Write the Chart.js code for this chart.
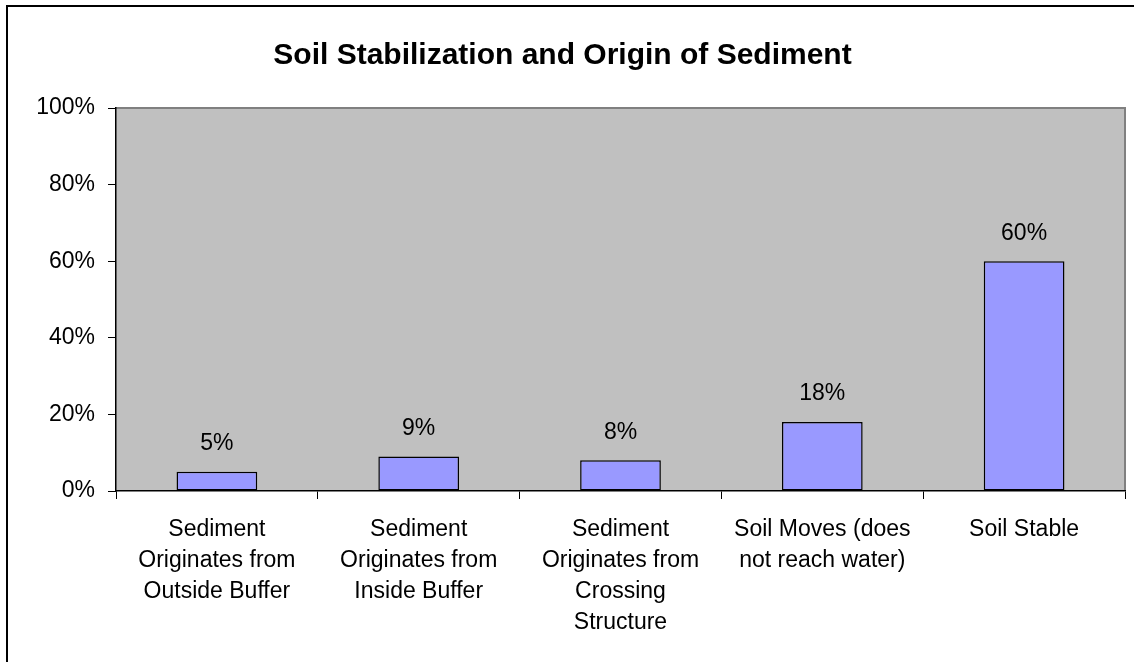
<!DOCTYPE html>
<html>
<head>
<meta charset="utf-8">
<script src="https://cdn.jsdelivr.net/npm/chart.js@4"></script>
<style>
  html, body { margin: 0; padding: 0; background: #fff; }
  #wrap { position: relative; width: 1134px; height: 662px; }
</style>
</head>
<body>
<div id="wrap"><canvas id="soilChart" width="1134" height="662"></canvas></div>
<script>
// Data
const categories = [
    ["Sediment", "Originates from", "Outside Buffer"],
    ["Sediment", "Originates from", "Inside Buffer"],
    ["Sediment", "Originates from", "Crossing", "Structure"],
    ["Soil Moves (does", "not reach water)"],
    ["Soil Stable"]
];
const shares = [0.05, 0.09, 0.08, 0.18, 0.60];
const yTicks = [0, 0.2, 0.4, 0.6, 0.8, 1.0];
const chartTitle = "Soil Stabilization and Origin of Sediment";

const FONT = "'Liberation Sans', Arial, sans-serif";
Chart.defaults.font.family = FONT;
Chart.defaults.color = "#000";

function pct(v){
    return Math.round(v * 100) + "%";
}

//====================================
// Grey plot area, outer frame and value labels above the bars
const excelLook = {
    id: "excelLook",
    beforeDraw(chart){
        const ctx = chart.ctx;
        const a = chart.chartArea;
        ctx.save();
        // outer frame (only left and top edges are visible)
        ctx.strokeStyle = "#000";
        ctx.lineWidth = 2;
        ctx.beginPath();
        ctx.moveTo(7, chart.height + 5);
        ctx.lineTo(7, 6);
        ctx.lineTo(chart.width + 5, 6);
        ctx.stroke();
        // plot background
        ctx.fillStyle = "#C0C0C0";
        ctx.fillRect(a.left, a.top, a.right - a.left, a.bottom - a.top);
        ctx.strokeStyle = "#808080";
        ctx.lineWidth = 2;
        ctx.beginPath();
        ctx.moveTo(a.left, a.top);
        ctx.lineTo(a.right, a.top);
        ctx.lineTo(a.right, a.bottom);
        ctx.stroke();
        ctx.restore();
    },
    afterDatasetsDraw(chart){
        const ctx = chart.ctx;
        const meta = chart.getDatasetMeta(0);
        ctx.save();
        ctx.font = "23px " + FONT;
        ctx.fillStyle = "#000";
        ctx.textAlign = "center";
        ctx.textBaseline = "middle";
        meta.data.forEach(function(bar, i){
            ctx.fillText(pct(shares[i]), bar.x, bar.y - 28);
        });
        ctx.restore();
    }
};

const data = {
    labels: categories,
    datasets: [{
        data: shares,
        backgroundColor: "#9999FF",
        borderColor: "#000",
        borderWidth: 1.5,
        borderSkipped: false,
        categoryPercentage: 1.0,
        barPercentage: 0.40
    }]
};

const options = {
    responsive: false,
    animation: false,
    layout: { padding: { left: 0, right: 9, top: 0, bottom: 0 } },
    plugins: {
        legend: { display: false },
        tooltip: { enabled: false },
        title: {
            display: true,
            text: chartTitle,
            color: "#000",
            font: { size: 30, weight: "bold", family: FONT },
            padding: { top: 38, bottom: 34 }
        }
    },
    scales: {
        x: {
            offset: true,
            grid: {
                offset: true,
                drawOnChartArea: false,
                drawTicks: true,
                tickLength: 8,
                color: "#000",
                lineWidth: 1
            },
            border: { display: true, color: "#000", width: 1.5 },
            ticks: {
                color: "#000",
                padding: 15,
                maxRotation: 0,
                autoSkip: false,
                font: { size: 23, lineHeight: 1.35 }
            },
            afterFit(scale){ scale.height = 171; }
        },
        y: {
            min: 0,
            max: 1,
            afterBuildTicks(scale){
                scale.ticks = yTicks.map(v => ({ value: v }));
            },
            grid: {
                drawOnChartArea: false,
                drawTicks: true,
                tickLength: 8,
                color: "#000",
                lineWidth: 1
            },
            border: { display: true, color: "#000", width: 1.5 },
            ticks: {
                color: "#000",
                padding: 13,
                font: { size: 23 },
                callback: function(v){ return pct(v); }
            },
            afterFit(scale){ scale.width = 116; }
        }
    }
};

const canvas = document.getElementById("soilChart");
const chart = new Chart(canvas, {
    type: "bar",
    data: data,
    options: options,
    plugins: [excelLook]
});
</script>
</body>
</html>
